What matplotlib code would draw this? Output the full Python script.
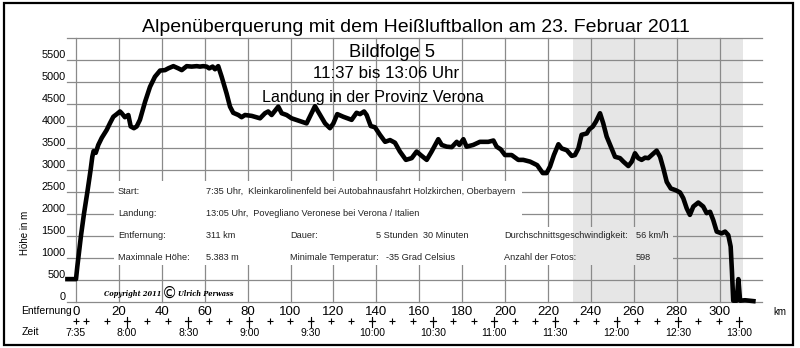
import matplotlib.pyplot as plt
from matplotlib.patches import Rectangle, Polygon

plt.rcParams['font.family'] = ['Liberation Sans', 'DejaVu Sans']

# flight profile
dist_km = [-4.0, 0.0, 0.6, 1.2, 2.3, 3.7, 5.3, 6.8, 7.6, 8.2, 9.2, 10.4, 12.0, 14.3,
           15.9, 17.4, 19.0, 20.5, 21.3, 22.8, 24.4, 25.5, 27.0, 28.3, 29.8, 32.2,
           34.5, 36.8, 39.2, 41.5, 43.0, 45.4, 47.7, 49.3, 51.6, 53.9, 56.3, 57.8,
           59.3, 60.9, 62.1, 63.7, 64.8, 66.3, 67.9, 70.2, 71.8, 73.3, 75.7, 77.2,
           78.8, 81.9, 85.8, 88.1, 89.6, 91.2, 94.3, 95.9, 98.2, 100.5, 104.4, 107.5,
           111.4, 113.8, 116.1, 118.4, 120.0, 121.8, 124.6, 128.5, 130.8, 132.4, 134.3,
           135.5, 137.4, 139.4, 141.7, 144.1, 146.4, 148.7, 151.0, 153.8, 156.5, 158.8,
           160.7, 163.5, 165.8, 168.9, 170.5, 172.8, 175.2, 177.5, 178.7, 180.6, 182.1,
           185.2, 188.3, 192.2, 194.6, 196.1, 198.0, 200.0, 203.1, 206.2, 208.5, 211.7,
           215.0, 217.6, 219.4, 221.0, 222.8, 224.9, 226.4, 228.8, 231.1, 232.6, 234.2,
           235.7, 238.1, 239.3, 240.9, 242.4, 244.3, 245.8, 247.4, 249.0, 251.3, 253.6,
           255.2, 257.5, 259.1, 260.6, 262.1, 263.7, 265.3, 266.8, 268.4, 270.7, 272.3,
           273.8, 275.4, 277.3, 279.6, 281.6, 283.1, 284.7, 286.2, 287.8, 290.1, 292.4,
           294.0, 295.6, 297.1, 298.7, 301.0, 302.6, 304.1, 305.2, 305.8, 306.4, 308.0,
           308.8, 309.6, 311.9, 315.8]
alt_m = [520, 520, 800, 1050, 1500, 2000, 2500, 3000, 3300, 3430, 3390, 3570, 3730, 3910,
         4070, 4210, 4270, 4330, 4290, 4200, 4250, 3990, 3950, 3990, 4140, 4550,
         4890, 5120, 5260, 5270, 5310, 5360, 5310, 5270, 5360, 5350, 5360, 5350,
         5360, 5350, 5310, 5350, 5290, 5360, 5120, 4740, 4440, 4300, 4250, 4200,
         4250, 4230, 4175, 4290, 4330, 4250, 4440, 4290, 4250, 4175, 4110, 4060,
         4450, 4250, 4060, 3950, 4060, 4270, 4210, 4140, 4300, 4270, 4330,
         4250, 4000, 3970, 3800, 3640, 3680, 3620, 3420, 3230, 3270, 3420,
         3340, 3230, 3420, 3700, 3570, 3530, 3520, 3640, 3570, 3700, 3530,
         3570, 3640, 3640, 3670, 3530, 3470, 3340, 3340, 3230, 3230, 3190,
         3110, 2930, 2930, 3080, 3340, 3585, 3490, 3450, 3320, 3340, 3490,
         3800, 3830, 3925, 3985, 4100, 4290, 4060, 3760, 3570, 3300, 3270,
         3190, 3090, 3190, 3380, 3270, 3230, 3280, 3270, 3340, 3440, 3300,
         3040, 2730, 2580, 2540, 2490, 2360, 2130, 1980, 2170, 2260, 2170,
         2020, 2050, 1860, 1600, 1560, 1600, 1520, 1260, 700, 30, 30,
         520, 30, 40, 20]

x_ticks = list(range(0, 301, 20))
y_ticks = list(range(0, 6001, 500))
y_labels = [str(v) for v in y_ticks[:-1]] + ['']

time_labels = ['7:35', '8:00', '8:30', '9:00', '9:30', '10:00', '10:30',
               '11:00', '11:30', '12:00', '12:30', '13:00']
start_min = 7 * 60 + 35
km_per_min = 0.951
small_marks_min = [0] + list(range(5, 326, 10))   # every 10 minutes

shade_km = (231.7, 311.0)

title = 'Alpenüberquerung mit dem Heißluftballon am 23. Februar 2011'
subtitles = ['Bildfolge 5', '11:37 bis 13:06 Uhr', 'Landung in der Provinz Verona']

info_rows = [
    ['Start:', '7:35 Uhr,  Kleinkarolinenfeld bei Autobahnausfahrt Holzkirchen, Oberbayern'],
    ['Landung:', '13:05 Uhr,  Povegliano Veronese bei Verona / Italien'],
    ['Entfernung:', '311 km', 'Dauer:', '5 Stunden  30 Minuten',
     'Durchschnittsgeschwindigkeit:', '56 km/h'],
    ['Maximnale Höhe:', '5.383 m', 'Minimale Temperatur:', '-35 Grad Celsius',
     'Anzahl der Fotos:', '598'],
]

W, H = 800, 348


def fx(px):
    return px / W


def fy(py):
    return 1 - py / H


fig = plt.figure(figsize=(8, 3.48), dpi=100)
ax = fig.add_axes([fx(67), fy(302), 695 / W, 264 / H])
ax.set_xlim(-9 / 2.145, 695 / 2.145 - 9 / 2.145)
ax.set_ylim(0, 6000)
for s in ax.spines.values():
    s.set_visible(False)

grid_c = '#8a8a8a'
for v in y_ticks:
    ax.axhline(v, color=grid_c, lw=0.9, zorder=1, clip_on=False)
for v in x_ticks:
    ax.axvline(v, color=grid_c, lw=0.9, zorder=1, clip_on=False)

ax.axvspan(shade_km[0], shade_km[1], color='#e6e6e6', lw=0, zorder=0)

# text block hides the grid
ax.add_patch(Polygon([(17.5, 2750), (208, 2750), (208, 1705), (278.5, 1705),
                      (278.5, 850), (17.5, 850)], closed=True, fc='white',
                     ec='none', zorder=2))
ax.add_patch(Rectangle((shade_km[0], 850), 278.5 - shade_km[0], 1705 - 850,
                       fc='#e6e6e6', ec='none', zorder=2.5))

ax.plot(dist_km, alt_m, color='black', lw=3.3, solid_joinstyle='round',
        zorder=5, clip_on=False)

ax.set_xticks(x_ticks)
ax.set_xticklabels([str(v) for v in x_ticks], fontsize=9.5)
ax.set_yticks(y_ticks)
ax.set_yticklabels(y_labels, fontsize=7.8)
ax.tick_params(length=0)
ax.tick_params(axis='x', pad=3)
ax.tick_params(axis='y', pad=1)
for lbl in ax.get_yticklabels():
    lbl.set_va('bottom')

# time scale
mark_x = [m * km_per_min for m in small_marks_min]
ax.plot(mark_x, [-430] * len(mark_x), '+', color='black', ms=4, mew=0.8,
        clip_on=False)
for lab in time_labels:
    hh, mm = lab.split(':')
    x = (int(hh) * 60 + int(mm) - start_min) * km_per_min
    if lab != '7:35':
        ax.plot([x, x], [-340, -570], color='black', lw=0.8, clip_on=False)
        ax.plot([x - 1.3, x + 1.3], [-430, -430], color='black', lw=0.8,
                clip_on=False)
    ax.text(x, -705, lab, fontsize=7.5, ha='center', va='center')

fig.text(fx(21), fy(311), 'Entfernung', fontsize=7.5, va='center', ha='left')
fig.text(fx(22), fy(332), 'Zeit', fontsize=7.5, va='center', ha='left')
fig.text(fx(773), fy(312), 'km', fontsize=7, va='center', ha='left')
fig.text(fx(25), fy(233), 'Höhe in m', fontsize=7, rotation=90,
         ha='center', va='center')

fig.text(fx(416), fy(31.7), title, fontsize=14, ha='center', va='baseline')
for txt, cx, by, fs in zip(subtitles, [392, 386, 373], [56.7, 78.3, 101.5],
                           [13.2, 12.2, 11.6]):
    fig.text(fx(cx), fy(by), txt, fontsize=fs, ha='center', va='baseline')

col_x = [118, 206, 290, 376, 504, 636]
row_y = [194, 216, 238, 260]
for row, by in zip(info_rows, row_y):
    for i, txt in enumerate(row):
        x = col_x[i]
        if txt.startswith('-35'):
            x = 386
        fig.text(fx(x), fy(by), txt, fontsize=6.6, color='#222222',
                 ha='left', va='baseline', zorder=4)

fig.text(fx(161), fy(296), 'Copyright 2011', fontsize=4.8, family='DejaVu Serif',
         style='italic', weight='bold', ha='right', va='baseline')
fig.text(fx(170), fy(297.5), '©', fontsize=11, family='DejaVu Sans', ha='center',
         va='baseline')
fig.text(fx(178.5), fy(296), 'Ulrich Perwass', fontsize=4.8, family='DejaVu Serif',
         style='italic', weight='bold', va='baseline')

fig.patches.append(Rectangle((fx(3.5), fy(345)), (793 - 3.5) / W, (345 - 3) / H,
                             transform=fig.transFigure, fill=False, ec='black',
                             lw=1.6))

fig.savefig('out.png', dpi=100)
